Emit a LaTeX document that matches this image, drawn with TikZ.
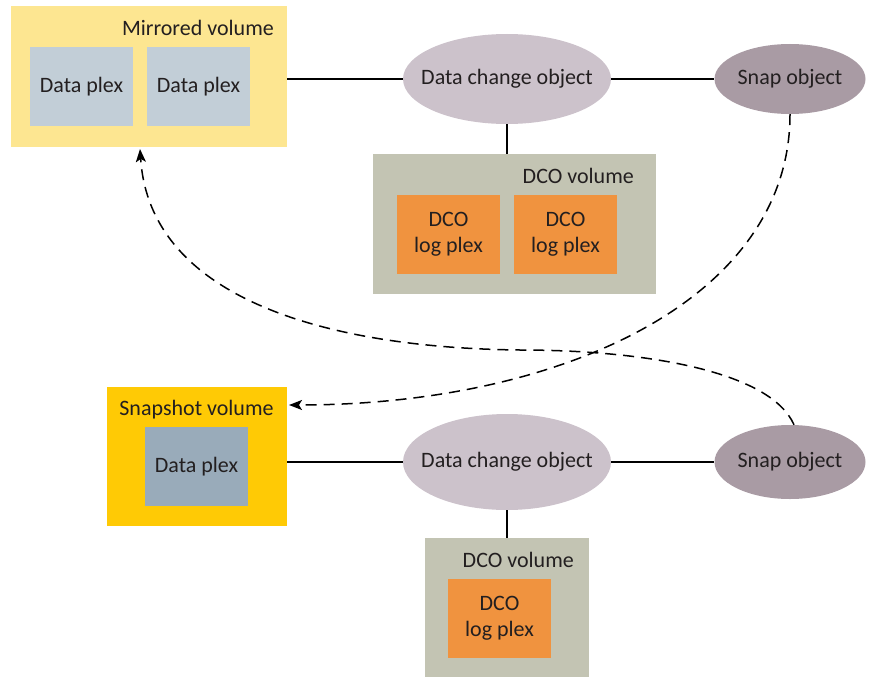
\documentclass[tikz,border=0pt]{standalone}
\usepackage{fontspec}
\setmainfont{Carlito}
\usetikzlibrary{arrows.meta,shapes.geometric}
\definecolor{mirfill}{HTML}{FDE691}
\definecolor{plexfill}{HTML}{C2CED7}
\definecolor{dcovfill}{HTML}{C3C4B3}
\definecolor{logfill}{HTML}{F0933F}
\definecolor{snapvfill}{HTML}{FFCA05}
\definecolor{splexfill}{HTML}{99ABBA}
\definecolor{dcfill}{HTML}{CCC2CB}
\definecolor{sofill}{HTML}{A99BA4}
\definecolor{txt}{HTML}{231F20}
\tikzset{
  box/.style={rectangle, inner sep=0pt, draw=none, text=txt, align=center},
  ell/.style={ellipse, inner sep=0pt, draw=none},
  lbl/.style={inner sep=0pt, text=txt},
  conn/.style={line width=1.5pt, draw=black},
  dconn/.style={line width=1.5pt, draw=black, dash pattern=on 11pt off 7pt, -{Stealth[length=13pt,width=10pt,inset=3pt]}},
}
\begin{document}
\begin{tikzpicture}[x=1pt,y=-1pt,font=\fontsize{22}{26}\selectfont]
\useasboundingbox (0,0) rectangle (874,677);
% top group
\node[box, fill=mirfill, minimum width=276pt, minimum height=141pt] (mv) at (149,76.5) {};
\node[lbl, anchor=base east] (mvl) at (274,36) {Mirrored volume};
\node[box, fill=plexfill, minimum width=103pt, minimum height=79pt] (dp1) at (81.5,86.5) {Data plex};
\node[box, fill=plexfill, minimum width=103pt, minimum height=79pt] (dp2) at (198.5,86.5) {Data plex};
\node[ell, fill=dcfill, minimum width=208pt, minimum height=90pt, label={[lbl]center:Data change object}] (dc1) at (507,79) {};
\node[ell, fill=sofill, minimum width=151pt, minimum height=70pt, label={[lbl]center:Snap object}] (so1) at (790,79) {};
\node[box, fill=dcovfill, minimum width=283pt, minimum height=140pt] (dv1) at (514.5,224) {};
\node[lbl, anchor=base east] (dv1l) at (634,183) {DCO volume};
\node[box, fill=logfill, minimum width=103pt, minimum height=79pt] (lp1) at (448.5,234.5) {DCO\\log plex};
\node[box, fill=logfill, minimum width=103pt, minimum height=79pt] (lp2) at (565.5,234.5) {DCO\\log plex};
% bottom group
\node[box, fill=snapvfill, minimum width=180pt, minimum height=139pt] (sv) at (197,456.5) {};
\node[lbl, anchor=base] (svl) at (196.5,415) {Snapshot volume};
\node[box, fill=splexfill, minimum width=103pt, minimum height=79pt] (dp3) at (196.5,466.5) {Data plex};
\node[ell, fill=dcfill, minimum width=208pt, minimum height=96pt, label={[lbl]center:Data change object}] (dc2) at (507,462) {};
\node[ell, fill=sofill, minimum width=151pt, minimum height=74pt, label={[lbl]center:Snap object}] (so2) at (790,462) {};
\node[box, fill=dcovfill, minimum width=164pt, minimum height=139pt] (dv2) at (507,607.5) {};
\node[lbl, anchor=base east] (dv2l) at (574,567) {DCO volume};
\node[box, fill=logfill, minimum width=103pt, minimum height=79pt] (lp3) at (499.5,618.5) {DCO\\log plex};
% connectors
\draw[conn] (mv.east |- dc1) -- (dc1.west);
\draw[conn] (dc1.east) -- (so1.west);
\draw[conn] (dc1.south) -- (dc1.south |- dv1.north);
\draw[conn] (sv.east |- dc2) -- (dc2.west);
\draw[conn] (dc2.east) -- (so2.west);
\draw[conn] (dc2.south) -- (dc2.south |- dv2.north);
\coordinate (t1) at (289,405);
\coordinate (t2) at (140,149);
\draw[dconn] (so1.south) .. controls (790,300) and (560,405) .. (t1);
\draw[dconn] ([xshift=4pt]so2.north) .. controls (770,370) and (640,350) .. (520,350) .. controls (330,348) and (150,300) .. (t2);
\end{tikzpicture}
\end{document}
